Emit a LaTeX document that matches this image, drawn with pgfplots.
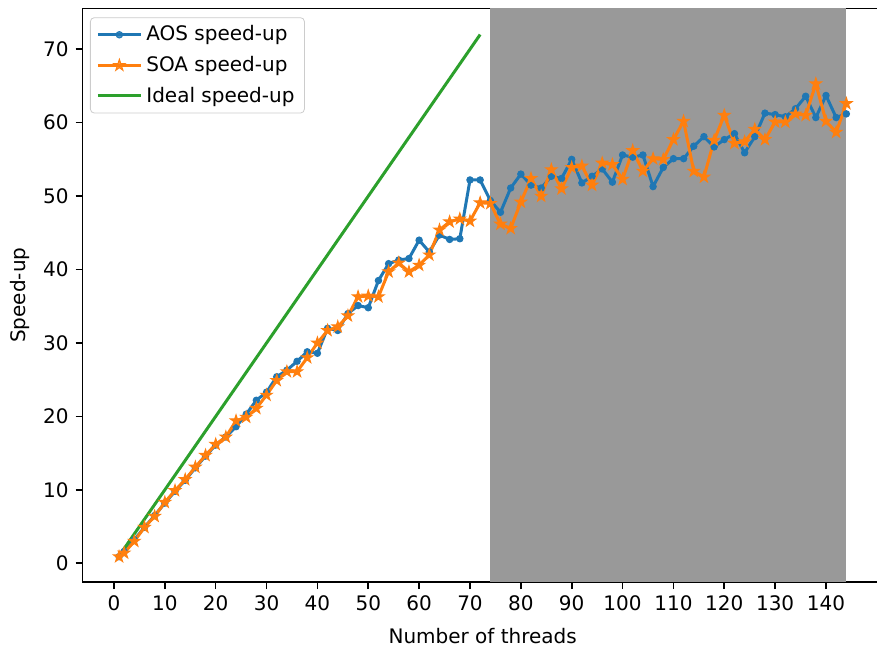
\documentclass[border=0pt]{standalone}
\usepackage{fontspec}
\setmainfont{DejaVu Sans}
\usepackage{pgfplots}
\pgfplotsset{compat=1.18}
\definecolor{cA}{HTML}{1F77B4}
\definecolor{cB}{HTML}{FF7F0E}
\definecolor{cC}{HTML}{2CA02C}
\definecolor{span}{HTML}{999999}
\pgfdeclareplotmark{fstar}{%
  \pgfpathmoveto{\pgfpointpolar{90}{\pgfplotmarksize}}%
  \pgfpathlineto{\pgfpointpolar{126}{0.382\pgfplotmarksize}}%
  \pgfpathlineto{\pgfpointpolar{162}{\pgfplotmarksize}}%
  \pgfpathlineto{\pgfpointpolar{198}{0.382\pgfplotmarksize}}%
  \pgfpathlineto{\pgfpointpolar{234}{\pgfplotmarksize}}%
  \pgfpathlineto{\pgfpointpolar{270}{0.382\pgfplotmarksize}}%
  \pgfpathlineto{\pgfpointpolar{306}{\pgfplotmarksize}}%
  \pgfpathlineto{\pgfpointpolar{342}{0.382\pgfplotmarksize}}%
  \pgfpathlineto{\pgfpointpolar{18}{\pgfplotmarksize}}%
  \pgfpathlineto{\pgfpointpolar{54}{0.382\pgfplotmarksize}}%
  \pgfpathclose
  \pgfusepathqfillstroke
}
\pgfplotstableread{
x aos soa
1 0.9 0.9
2 1.6 1.4
4 3.2 3.0
6 4.9 4.9
8 6.5 6.4
10 8.2 8.3
12 9.8 9.9
14 11.3 11.4
16 13.0 13.1
18 14.6 14.7
20 16.1 16.2
22 17.2 17.2
24 18.6 19.4
26 20.3 19.9
28 22.2 21.1
30 23.3 22.9
32 25.4 24.9
34 26.3 26.1
36 27.5 26.1
38 28.8 28.0
40 28.6 30.0
42 32.0 31.7
44 31.7 32.2
46 34.0 33.7
48 35.1 36.3
50 34.8 36.4
52 38.5 36.3
54 40.8 39.7
56 41.3 40.9
58 41.5 39.7
60 44.0 40.6
62 42.4 42.0
64 44.7 45.4
66 44.1 46.5
68 44.2 46.9
70 52.2 46.6
72 52.2 49.1
74 49.4 49.0
76 47.8 46.2
78 51.1 45.6
80 53.0 49.2
82 51.5 52.4
84 51.1 50.0
86 52.7 53.6
88 52.4 51.0
90 55.0 53.9
92 51.8 54.1
94 52.7 51.5
96 53.7 54.5
98 51.9 54.3
100 55.6 52.3
102 55.3 56.2
104 55.6 53.4
106 51.3 55.1
108 53.9 55.0
110 55.1 57.7
112 55.1 60.2
114 56.8 53.4
116 58.1 52.6
118 56.7 57.6
120 57.7 61.0
122 58.5 57.2
124 55.9 57.4
126 58.1 59.1
128 61.3 57.7
130 61.1 60.1
132 60.8 60.1
134 61.9 61.2
136 63.6 61.0
138 60.7 65.3
140 63.7 60.2
142 60.7 58.7
144 61.2 62.6
}\speeddata
\begin{document}
\fontsize{10}{12}\selectfont
\begin{tikzpicture}
\useasboundingbox (-41.35pt,-32.5pt) rectangle (397.15pt,291pt);
\begin{axis}[
  scale only axis,
  width=400pt, height=286.75pt,
  at={(0,0)}, anchor=south west,
  xmin=-6.15, xmax=151.15,
  ymin=-2.55, ymax=75.55,
  xtick={0,10,...,140},
  ytick={0,10,...,70},
  xtick pos=left, ytick pos=left,
  tick align=outside,
  major tick length=3.5pt,
  every tick/.style={black, line width=0.8pt},
  axis line style={line width=0.8pt},
  /pgf/number format/assume math mode=true,
  tick label style={font=\fontsize{10}{12}\selectfont},
  xlabel={Number of threads},
  ylabel={Speed-up},
  label style={font=\fontsize{10}{12}\selectfont},
  xlabel style={at={(axis description cs:0.5,-0.108)}, anchor=base},
  ylabel style={at={(axis description cs:-0.0784,0.5)}, anchor=center},
  legend style={at={(axis description cs:0.0091,0.9847)}, anchor=north west,
    draw=black!20, rounded corners=2pt, fill=white, fill opacity=0.8, text opacity=1,
    font=\fontsize{10}{12}\selectfont, inner xsep=3pt, inner ysep=2pt,
    row sep=2.2pt},
  legend cell align=left,
  legend image code/.code={\draw[mark repeat=2,mark phase=2,#1] plot coordinates {(0pt,0pt) (10.75pt,0pt) (21.5pt,0pt)};},
]
\addplot[draw=none, fill=span, forget plot] coordinates {(74,-2.55) (74,75.55) (144,75.55) (144,-2.55)} -- cycle;
\addplot[cA, line width=1.5pt, mark=*, mark size=1.6pt, mark options={line width=0.5pt}] table[x=x, y=aos] {\speeddata};
\addlegendentry{AOS speed-up}
\addplot[cB, line width=1.5pt, mark=fstar, mark size=3pt, mark options={line width=0.5pt}] table[x=x, y=soa] {\speeddata};
\addlegendentry{SOA speed-up}
\addplot[cC, line width=1.5pt] coordinates {(1,1) (72,72)};
\addlegendentry{Ideal speed-up}
\end{axis}
\end{tikzpicture}
\end{document}
